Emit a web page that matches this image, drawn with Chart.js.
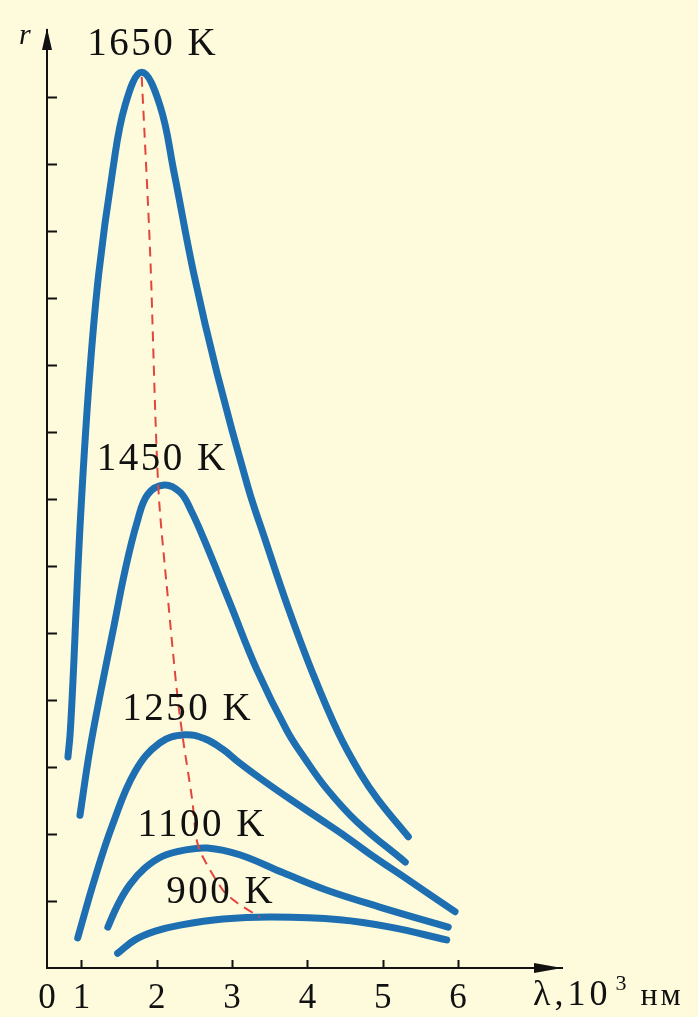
<!DOCTYPE html>
<html>
<head>
<meta charset="utf-8">
<script src="https://cdn.jsdelivr.net/npm/chart.js@4.4.1/dist/chart.umd.min.js"></script>
<style>
  html, body { margin: 0; padding: 0; background: #fdfbdc; }
  canvas { display: block; }
</style>
</head>
<body>
<canvas id="chart" width="698" height="1017"></canvas>
<script>
// curve labels
const temperatures = ['1650 K', '1450 K', '1250 K', '1100 K', '900 K'];

// λ in 10^3 nm, r in axis tick units
const lambda1650 = [0.82, 0.85, 0.90, 0.95, 1.01, 1.11, 1.23, 1.41, 1.58, 1.80, 2.04, 2.23, 2.49, 2.80, 3.21, 3.44, 3.74, 4.07, 4.41, 4.70, 4.94, 5.34];
const r1650      = [3.15, 3.51, 4.60, 5.90, 7.18, 8.88, 10.37, 11.87, 12.88, 13.37, 12.88, 11.87, 10.37, 8.88, 7.18, 6.39, 5.39, 4.40, 3.51, 2.91, 2.51, 1.96];

const lambda1450 = [0.98, 1.11, 1.26, 1.42, 1.58, 1.74, 1.88, 2.10, 2.31, 2.45, 2.63, 2.97, 3.33, 3.73, 3.97, 4.26, 4.66, 5.30];
const r1450      = [2.28, 3.25, 4.15, 5.04, 5.94, 6.66, 7.07, 7.21, 7.10, 6.84, 6.39, 5.45, 4.45, 3.54, 3.12, 2.67, 2.18, 1.58];

const lambda1250 = [0.95, 1.17, 1.41, 1.71, 2.04, 2.37, 2.64, 2.87, 3.10, 3.40, 3.77, 4.17, 4.50, 4.87, 5.32, 5.96];
const r1250      = [0.45, 1.31, 2.13, 2.93, 3.36, 3.48, 3.42, 3.27, 3.06, 2.81, 2.52, 2.22, 1.97, 1.67, 1.33, 0.84];

const lambda1100 = [1.35, 1.48, 1.64, 1.84, 2.08, 2.37, 2.67, 3.10, 3.68, 4.26, 4.96, 5.87];
const r1100      = [0.61, 0.94, 1.24, 1.49, 1.67, 1.76, 1.79, 1.69, 1.42, 1.16, 0.91, 0.61];

const lambda900 = [1.48, 1.71, 1.98, 2.31, 2.88, 3.54, 4.43, 5.10, 5.85];
const r900      = [0.22, 0.42, 0.55, 0.64, 0.73, 0.76, 0.72, 0.61, 0.42];

// maxima line (dashed)
const wienLambda = [1.80, 1.91, 2.02, 2.15, 2.27, 2.35, 2.47, 2.53, 2.61, 2.88, 3.07, 3.37];
const wienR      = [13.30, 10.72, 7.18, 5.49, 4.10, 3.40, 2.51, 1.91, 1.66, 1.16, 0.97, 0.76];

const xTicks = [1, 2, 3, 4, 5, 6];
const yTicks = [1, 2, 3, 4, 5, 6, 7, 8, 9, 10, 11, 12, 13];

const BLUE = '#1d6fb1';
const INK = '#111';
const SERIF = '"Liberation Serif", "DejaVu Serif", serif';

const pts = (xs, ys) => xs.map((x, i) => ({ x: x, y: ys[i] }));

const curves = [
  pts(lambda1650, r1650),
  pts(lambda1450, r1450),
  pts(lambda1250, r1250),
  pts(lambda1100, r1100),
  pts(lambda900, r900)
];

// pixel shift of each label from its curve's peak
const labelShift = [[11, -27], [-2, -25], [3, -25], [-5, -22], [-52, -24]];

const datasets = [{
  label: 'max',
  data: pts(wienLambda, wienR),
  borderColor: '#e2453d',
  borderWidth: 2,
  borderDash: [10, 7],
  pointRadius: 0,
  tension: 0.3,
  order: 0
}];
curves.forEach((c, i) => {
  datasets.push({
    label: temperatures[i],
    data: c,
    borderColor: BLUE,
    borderWidth: 7,
    borderCapStyle: 'round',
    borderJoinStyle: 'round',
    pointRadius: 0,
    tension: 0.4,
    order: 1
  });
});

const decor = {
  id: 'decor',
  beforeDraw(chart) {
    const ctx = chart.ctx;
    ctx.save();
    ctx.fillStyle = '#fdfbdc';
    ctx.fillRect(0, 0, chart.width, chart.height);
    ctx.restore();
  },
  afterDatasetsDraw(chart) {
    const ctx = chart.ctx;
    const xs = chart.scales.x, ys = chart.scales.y;
    ctx.save();
    ctx.fillStyle = INK;
    ctx.font = '39px ' + SERIF;
    ctx.letterSpacing = '2.5px';
    ctx.textAlign = 'center';
    ctx.textBaseline = 'middle';
    curves.forEach((c, i) => {
      let top = c[0];
      c.forEach(p => { if (p.y > top.y) top = p; });
      const px = xs.getPixelForValue(top.x) + labelShift[i][0];
      const py = ys.getPixelForValue(top.y) + labelShift[i][1];
      ctx.fillText(temperatures[i], px, py);
    });
    ctx.restore();
  },
  afterDraw(chart) {
    const ctx = chart.ctx;
    const a = chart.chartArea;
    const xs = chart.scales.x, ys = chart.scales.y;
    ctx.save();
    ctx.strokeStyle = INK;
    ctx.fillStyle = INK;
    ctx.lineWidth = 2;
    // inner tick marks
    ctx.beginPath();
    yTicks.forEach(v => {
      const y = Math.round(ys.getPixelForValue(v)) + 0.5;
      ctx.moveTo(a.left, y);
      ctx.lineTo(a.left + 10, y);
    });
    xTicks.forEach(v => {
      const x = Math.round(xs.getPixelForValue(v)) + 0.5;
      ctx.moveTo(x, a.bottom);
      ctx.lineTo(x, a.bottom - 8);
    });
    ctx.stroke();
    // arrow heads
    ctx.beginPath();
    ctx.moveTo(a.left, a.top - 2);
    ctx.lineTo(a.left - 5, a.top + 20);
    ctx.lineTo(a.left + 5, a.top + 20);
    ctx.closePath();
    ctx.fill();
    ctx.beginPath();
    ctx.moveTo(a.right, a.bottom);
    ctx.lineTo(a.right - 28, a.bottom - 5);
    ctx.lineTo(a.right - 28, a.bottom + 5);
    ctx.closePath();
    ctx.fill();
    // axis names
    ctx.textBaseline = 'alphabetic';
    ctx.textAlign = 'left';
    ctx.font = 'italic 30px ' + SERIF;
    ctx.fillText('r', 19, 44);
    let x = 533;
    ctx.font = '36px ' + SERIF;
    ctx.letterSpacing = '4px';
    ctx.fillText('λ,10', x, 1005);
    x += ctx.measureText('λ,10').width + 4;
    ctx.letterSpacing = '0px';
    ctx.font = '22px ' + SERIF;
    ctx.fillText('3', x, 990);
    x += ctx.measureText('3').width + 14;
    ctx.font = '32px ' + SERIF;
    ctx.letterSpacing = '3px';
    ctx.fillText('нм', x, 1005);
    ctx.restore();
  }
};

new Chart(document.getElementById('chart'), {
  type: 'line',
  data: { datasets: datasets },
  options: {
    responsive: false,
    animation: false,
    events: [],
    layout: { autoPadding: false, padding: { left: 0, right: 136, top: 30, bottom: 0 } },
    plugins: { legend: { display: false }, tooltip: { enabled: false } },
    elements: { line: { fill: false } },
    scales: {
      x: {
        type: 'linear',
        min: 0.542,
        max: 7.381,
        grid: { display: false },
        border: { display: true, color: INK, width: 2 },
        afterBuildTicks: (scale) => {
          scale.ticks = [scale.min].concat(xTicks).map(v => ({ value: v }));
        },
        afterFit: (scale) => { scale.height = 49; },
        ticks: {
          color: INK,
          padding: 2,
          maxRotation: 0,
          autoSkip: false,
          font: { family: SERIF, size: 35 },
          callback: (v) => v < 1 ? '0' : String(v)
        }
      },
      y: {
        type: 'linear',
        min: 0,
        max: 14,
        grid: { display: false },
        border: { display: true, color: INK, width: 2 },
        afterFit: (scale) => { scale.width = 47; },
        ticks: { display: false, stepSize: 1 }
      }
    }
  },
  plugins: [decor]
});
</script>
</body>
</html>
